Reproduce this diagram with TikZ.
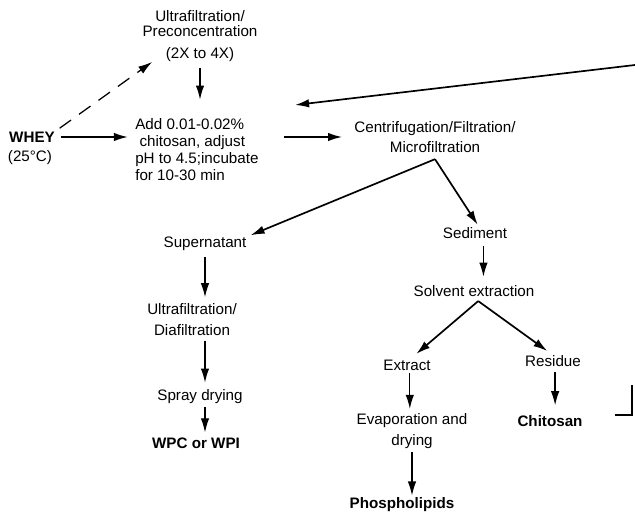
\documentclass[tikz,border=0pt]{standalone}
\usepackage{fontspec}
\setmainfont{Liberation Sans}
\usetikzlibrary{arrows.meta}

\begin{document}
\begin{tikzpicture}[x=0.025cm, y=-0.025cm,
	every node/.style={inner sep=0pt, font=\fontsize{10.8}{15}\selectfont},
	paso/.style={align=center},
	producto/.style={font=\fontsize{10.8}{15}\selectfont\bfseries},
	flecha/.style={-{Latex[length=10pt,width=6pt]}, line width=1.2pt},
	bajada/.style={-{Latex[length=10pt,width=6pt]}, line width=0.9pt},
	discontinua/.style={-{Latex[length=10pt,width=6pt]}, line width=0.9pt, dash pattern=on 10pt off 7pt}]
	\useasboundingbox (0,0) rectangle (635,511);

	% Entrada
		\node (whey) [producto] at (32,137) {WHEY};
		\node (temp) at (30,158) {(25°C)};
		\node (pre) [paso, font=\fontsize{10.8}{10.8}\selectfont] at (200,36) {Ultrafiltration/\\Preconcentration\\[4.8pt](2X to 4X)};
		\node (add) [align=left, anchor=west, font=\fontsize{10.8}{12.1}\selectfont] at (135,150) {Add 0.01-0.02\%\\ \ chitosan, adjust\\pH to 4.5;incubate\\ for 10-30 min};
		\node (centri) [paso, font=\fontsize{10.8}{14.2}\selectfont] at (435,137) {Centrifugation/Filtration/\\Microfiltration};

	% Rama del sobrenadante
		\node (super) at (205,244) {Supernatant};
		\node (ultra) [paso] at (192,320) {Ultrafiltration/\\Diafiltration};
		\node (spray) at (200,397) {Spray drying};
		\node (wpc) [producto] at (196,443) {WPC or WPI};

	% Rama del sedimento
		\node (sed) at (475,233) {Sediment};
		\node (solvent) at (474,291) {Solvent extraction};
		\node (extract) at (407,365) {Extract};
		\node (residue) at (553,361) {Residue};
		\node (evap) [paso] at (412,431) {Evaporation and\\drying};
		\node (phos) [producto] at (402,505) {Phospholipids};
		\node (chitosan) [producto] at (550,421) {Chitosan};

	% Puntos de bifurcacion y retorno
		\coordinate (split) at ([yshift=-4.5pt]centri.south);
		\coordinate (fork) at ([xshift=3pt, yshift=-3pt]solvent.south);
		\coordinate (fbtop) at (635,65);
		\coordinate (fbend) at (295,105);
		\coordinate (fbout) at (615,415);
		\coordinate (fbcorner) at (632,415);
		\coordinate (fbup) at (632,385);

	% Flechas de la entrada
		\draw [discontinua, shorten <=4pt] (whey.north east) -- ([xshift=7pt]pre.south west);
		\draw [flecha, shorten <=4pt, shorten >=5pt] (whey.east) -- (whey.east -| add.west);
		\draw [bajada, shorten <=4pt, shorten >=13.5pt] (pre.south) -- (pre.south |- add.north);
		\draw [flecha, shorten <=17.8pt, shorten >=8.5pt] (add.east |- centri.west) -- (centri.west);
		\draw [flecha] (fbtop) -- (fbend);

	% Flechas del sobrenadante
		\draw [flecha, shorten >=3pt] (split) -- (super.north east);
		\draw [bajada, shorten <=4pt, shorten >=4.5pt] (super.south) -- (super.south |- ultra.north);
		\draw [bajada, shorten <=3pt, shorten >=5pt] (ultra.south -| super.south) -- (spray.north -| super.south);
		\draw [bajada, shorten <=2pt, shorten >=3.5pt] (spray.south -| super.south) -- (wpc.north -| super.south);

	% Flechas del sedimento
		\draw [flecha, shorten >=2pt] (split) -- ([xshift=3pt]sed.north);
		\draw [bajada, shorten <=5pt, shorten >=6pt] ([xshift=6pt]sed.south) -- ([xshift=6pt]sed.south |- solvent.north);
		\draw [flecha, shorten >=6pt] (fork) -- ([xshift=2pt]extract.north);
		\draw [flecha, shorten >=5pt] (fork) -- (residue.north);
		\draw [bajada, shorten <=2pt, shorten >=3pt] ([xshift=2pt]extract.south) -- ([xshift=2pt]extract.south |- evap.north);
		\draw [bajada, shorten <=2pt, shorten >=1.5pt] (evap.south) -- (evap.south |- phos.north);
		\draw [flecha, line width=0.9pt, shorten <=4pt, shorten >=7pt] ([xshift=1.5pt]residue.south) -- ([xshift=1.5pt]residue.south |- chitosan.north);

	% Retorno del quitosano
		\draw [line width=0.8pt] (fbout) -- (fbcorner) -- (fbup);
\end{tikzpicture}
\end{document}
